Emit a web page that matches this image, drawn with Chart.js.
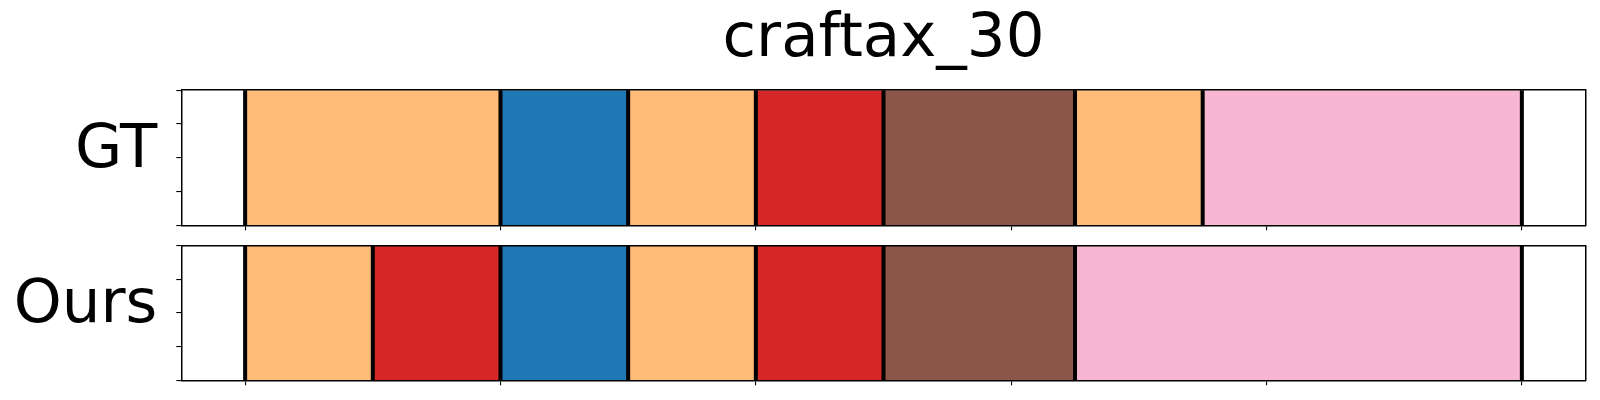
<!DOCTYPE html>
<html>
<head>
<meta charset="utf-8">
<script src="https://cdn.jsdelivr.net/npm/chart.js@4.4.1/dist/chart.umd.min.js"></script>
<style>
    html, body { margin: 0; padding: 0; background: #fff; }
    #wrap { position: relative; width: 1600px; height: 400px; }
    canvas { position: absolute; left: 0; }
    #chart-gt { top: 0; }
    #chart-ours { top: 235px; }
</style>
</head>
<body>
<div id="wrap">
    <canvas id="chart-gt" width="1600" height="235"></canvas>
    <canvas id="chart-ours" width="1600" height="165"></canvas>
</div>
<script>
// Data
const chartTitle = 'craftax_30';
const rowNames = ['GT', 'Ours'];

// segment classes and their lengths (in frames), left to right
const gtClasses = ['orange', 'blue', 'orange', 'red', 'brown', 'orange', 'pink'];
const gtLengths = [20, 10, 10, 10, 15, 10, 25];
const oursClasses = ['orange', 'red', 'blue', 'orange', 'red', 'brown', 'pink'];
const oursLengths = [10, 10, 10, 10, 10, 15, 35];

const xMin = -5;
const xMax = 105;
const xTickValues = [0, 20, 40, 60, 80, 100];
const yTickValues = [0, 0.25, 0.5, 0.75, 1];

// Styles
const classColors = {
    orange: '#ffbb78',
    blue: '#1f77b4',
    red: '#d62728',
    brown: '#8c564b',
    pink: '#f7b6d2'
};
const FONT = 'DejaVu Sans';

// vertical black lines at every segment boundary
const boundaryLines = {
    id: 'boundaryLines',
    afterDatasetsDraw(chart, args, opts) {
        const { ctx, chartArea, scales } = chart;
        ctx.save();
        ctx.strokeStyle = opts.color;
        ctx.lineWidth = opts.width;
        opts.values.forEach(v => {
            const x = scales.x.getPixelForValue(v);
            ctx.beginPath();
            ctx.moveTo(x, chartArea.top);
            ctx.lineTo(x, chartArea.bottom);
            ctx.stroke();
        });
        ctx.restore();
    }
};

function buildSegments(classes, lengths) {
    let start = 0;
    const bounds = [0];
    const datasets = classes.map((cls, i) => {
        const end = start + lengths[i];
        const ds = {
            label: cls,
            data: [[start, end]],
            backgroundColor: classColors[cls],
            borderWidth: 0,
            grouped: false,
            barPercentage: 1,
            categoryPercentage: 1
        };
        start = end;
        bounds.push(end);
        return ds;
    });
    return { datasets, bounds };
}

function makeChart(canvasId, rowName, classes, lengths, withTitle) {
    const { datasets, bounds } = buildSegments(classes, lengths);
    const frame = { display: true, color: '#000', width: 1.5, z: 1 };

    return new Chart(document.getElementById(canvasId), {
        type: 'bar',
        data: { labels: [rowName], datasets },
        plugins: [boundaryLines],
        options: {
            indexAxis: 'y',
            responsive: false,
            animation: false,
            layout: {
                padding: withTitle
                    ? { top: 0, right: 14.3, bottom: 4.7, left: 0 }
                    : { top: 10.3, right: 14.3, bottom: 14.7, left: 0 }
            },
            plugins: {
                legend: { display: false },
                tooltip: { enabled: false },
                title: {
                    display: withTitle,
                    text: chartTitle,
                    fullSize: false,
                    color: '#000',
                    font: { family: FONT, size: 61, weight: 'normal' },
                    padding: { top: 4, bottom: 13 }
                },
                boundaryLines: { values: bounds, color: '#000', width: 4 }
            },
            scales: {
                x: {
                    type: 'linear',
                    min: xMin,
                    max: xMax,
                    offset: false,
                    ticks: { display: false },
                    afterBuildTicks(scale) {
                        scale.ticks = xTickValues.map(v => ({ value: v }));
                    },
                    grid: { offset: false, drawOnChartArea: false, color: '#000', lineWidth: 1.1, tickLength: 5 },
                    border: frame
                },
                x2: {
                    type: 'linear',
                    position: 'top',
                    ticks: { display: false },
                    grid: { drawOnChartArea: false, drawTicks: false },
                    border: frame
                },
                y: {
                    type: 'category',
                    display: false
                },
                yt: {
                    type: 'linear',
                    position: 'left',
                    min: 0,
                    max: 1,
                    offset: false,
                    afterBuildTicks(scale) {
                        scale.ticks = yTickValues.map(v => ({ value: v }));
                    },
                    ticks: {
                        autoSkip: false,
                        color: '#000',
                        padding: 19,
                        labelOffset: -7,
                        font: { family: FONT, size: 61 },
                        callback: v => (v === 0.5 ? rowName : '')
                    },
                    grid: { offset: false, drawOnChartArea: false, color: '#000', lineWidth: 1.1, tickLength: 5 },
                    border: frame,
                    afterFit(scale) {
                        scale.width = 181.3;
                        scale.paddingTop = 0;
                        scale.paddingBottom = 0;
                    }
                },
                y2: {
                    type: 'linear',
                    position: 'right',
                    offset: false,
                    ticks: { display: false },
                    grid: { offset: false, drawOnChartArea: false, drawTicks: false },
                    border: frame
                }
            }
        }
    });
}

makeChart('chart-gt', rowNames[0], gtClasses, gtLengths, true);
makeChart('chart-ours', rowNames[1], oursClasses, oursLengths, false);
</script>
</body>
</html>
